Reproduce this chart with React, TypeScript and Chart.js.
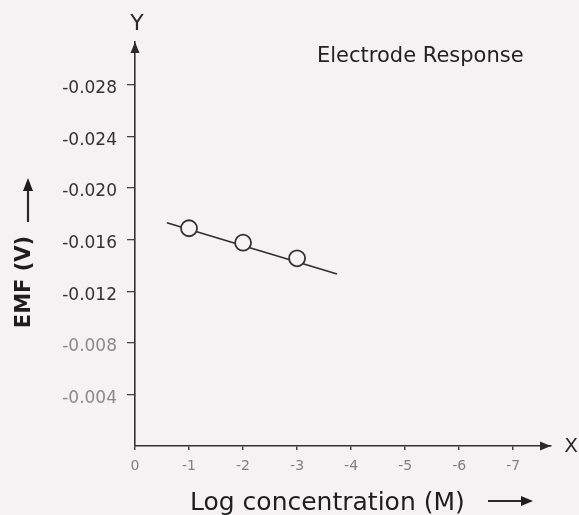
import React, { useEffect, useRef } from "react";
import { Chart, registerables } from "chart.js";

Chart.register(...registerables);

// ---- data ----
const xTickValues = [0, -1, -2, -3, -4, -5, -6, -7];
const xTickLabels = ["0", "-1", "-2", "-3", "-4", "-5", "-6", "-7"];
const yTickValues = [-0.004, -0.008, -0.012, -0.016, -0.02, -0.024, -0.028];
const yTickLabels = ["-0.004", "-0.008", "-0.012", "-0.016", "-0.020", "-0.024", "-0.028"];

const logConc = [-1, -2, -3];
const emf = [-0.01688, -0.01576, -0.01455];

const fitX = [-0.59, -3.74];
const fitY = [-0.01731, -0.01333];

const chartTitle = "Electrode Response";
const xTitle = "Log concentration (M)";
const yTitle = "EMF (V)";

const BG = "#f5f2f4";
const INK = "#2a2a2a";

const decor = {
  id: "decor",
  beforeDraw(chart: any) {
    const { ctx } = chart;
    ctx.save();
    ctx.fillStyle = BG;
    ctx.fillRect(0, 0, chart.width, chart.height);
    ctx.restore();
  },
  afterDraw(chart: any) {
    const { ctx, chartArea } = chart;
    const L = chartArea.left;
    const T = chartArea.top;
    const R = chartArea.right;
    const B = chartArea.bottom;
    ctx.save();
    ctx.fillStyle = INK;
    ctx.strokeStyle = INK;

    // y-axis arrowhead
    ctx.beginPath();
    ctx.moveTo(L, T);
    ctx.lineTo(L - 4.5, T + 11);
    ctx.lineTo(L + 4.5, T + 11);
    ctx.closePath();
    ctx.fill();

    // x-axis arrowhead
    ctx.beginPath();
    ctx.moveTo(R, B);
    ctx.lineTo(R - 11, B - 4.5);
    ctx.lineTo(R - 11, B + 4.5);
    ctx.closePath();
    ctx.fill();

    // axis letters
    ctx.textAlign = "center";
    ctx.textBaseline = "middle";
    ctx.font = "22px 'DejaVu Sans'";
    ctx.fillText("Y", L + 2, 24);
    ctx.font = "20px 'DejaVu Sans'";
    ctx.fillText("X", 571, B + 1);

    // chart title
    ctx.textAlign = "left";
    ctx.textBaseline = "alphabetic";
    ctx.font = "21px 'DejaVu Sans'";
    ctx.fillStyle = "#222";
    ctx.fillText(chartTitle, 317, 62);

    // x title + arrow
    ctx.font = "25px 'DejaVu Sans'";
    ctx.fillStyle = "#1e1e1e";
    ctx.fillText(xTitle, 190, 510);
    ctx.lineWidth = 2;
    ctx.beginPath();
    ctx.moveTo(488, 501);
    ctx.lineTo(524, 501);
    ctx.stroke();
    ctx.beginPath();
    ctx.moveTo(533, 501);
    ctx.lineTo(521, 496);
    ctx.lineTo(521, 506);
    ctx.closePath();
    ctx.fill();

    // y title + arrow (rotated)
    ctx.save();
    ctx.translate(25, 282);
    ctx.rotate(-Math.PI / 2);
    ctx.textAlign = "center";
    ctx.textBaseline = "middle";
    ctx.font = "bold 21px 'DejaVu Sans'";
    ctx.fillText(yTitle, 0, 0);
    ctx.restore();
    ctx.lineWidth = 2.2;
    ctx.beginPath();
    ctx.moveTo(28, 222);
    ctx.lineTo(28, 188);
    ctx.stroke();
    ctx.beginPath();
    ctx.moveTo(28, 178);
    ctx.lineTo(23, 191);
    ctx.lineTo(33, 191);
    ctx.closePath();
    ctx.fill();

    ctx.restore();
  },
};

export default function App() {
  const ref = useRef<HTMLCanvasElement | null>(null);

  useEffect(() => {
    if (!ref.current) return;
    const chart = new Chart(ref.current, {
      type: "scatter",
      data: {
        datasets: [
          {
            label: "measured",
            data: logConc.map((x, i) => ({ x, y: emf[i] })),
            showLine: false,
            pointRadius: 8,
            pointBorderWidth: 1.8,
            pointBackgroundColor: BG,
            pointBorderColor: "#333",
            order: 0,
          },
          {
            label: "fit",
            data: fitX.map((x, i) => ({ x, y: fitY[i] })),
            showLine: true,
            borderColor: "#2e2e2e",
            borderWidth: 1.6,
            pointRadius: 0,
            order: 1,
          },
        ],
      },
      options: {
        responsive: false,
        animation: false,
        devicePixelRatio: 1,
        layout: { padding: { top: 42, right: 28, left: 0, bottom: 0 } },
        plugins: {
          legend: { display: false },
          tooltip: { enabled: false },
          title: { display: false },
        },
        scales: {
          x: {
            type: "linear",
            reverse: true,
            min: -7.7,
            max: 0,
            afterBuildTicks: (s: any) => {
              s.ticks = xTickValues.map((v) => ({ value: v }));
            },
            afterFit: (s: any) => {
              s.height = 69;
            },
            ticks: {
              autoSkip: false,
              maxRotation: 0,
              padding: 8,
              color: "#808080",
              font: { family: "DejaVu Sans", size: 14 },
              callback: (v: any) => {
                const i = xTickValues.indexOf(Number(v));
                return i >= 0 ? xTickLabels[i] : "";
              },
            },
            grid: {
              display: true,
              drawOnChartArea: false,
              drawTicks: true,
              tickLength: 4,
              color: "#444",
              lineWidth: 1.5,
            },
            border: { display: true, color: "#333", width: 1.6 },
          },
          y: {
            type: "linear",
            reverse: true,
            min: -0.03132,
            max: 0,
            afterBuildTicks: (s: any) => {
              s.ticks = yTickValues.map((v) => ({ value: v }));
            },
            afterFit: (s: any) => {
              s.width = 135;
            },
            ticks: {
              autoSkip: false,
              padding: 10,
              labelOffset: 4,
              color: (c: any) => {
                const v = c.tick ? c.tick.value : 0;
                return v > -0.01 ? "#8a8a8a" : "#333";
              },
              font: { family: "DejaVu Sans", size: 17 },
              callback: (v: any) => {
                const i = yTickValues.findIndex((t) => Math.abs(t - Number(v)) < 1e-9);
                return i >= 0 ? yTickLabels[i] : "";
              },
            },
            grid: {
              display: true,
              drawOnChartArea: false,
              drawTicks: true,
              tickLength: 8,
              color: "#444",
              lineWidth: 1.3,
            },
            border: { display: true, color: "#333", width: 1.6 },
          },
        },
      },
      plugins: [decor],
    });
    return () => chart.destroy();
  }, []);

  return (
    <div style={{ position: "absolute", left: 0, top: 0, width: 579, height: 515, background: BG }}>
      <canvas ref={ref} width={579} height={515} style={{ width: 579, height: 515, display: "block" }} />
    </div>
  );
}
